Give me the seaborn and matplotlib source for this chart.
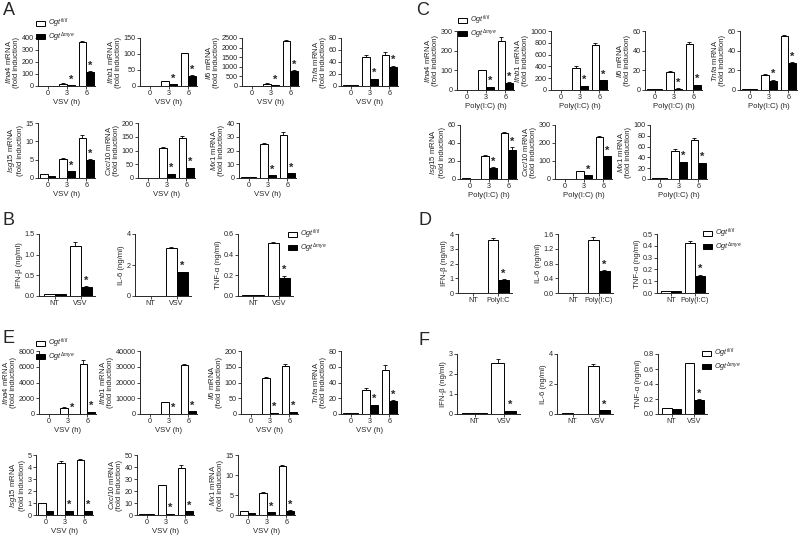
import numpy as np
import pandas as pd
import matplotlib
matplotlib.use("Agg")
import matplotlib.pyplot as plt
from matplotlib.patches import Patch
import seaborn as sns

W, H = 800, 537

GENOS = ["WT", "KO"]
GENO_LABELS = [r"$\mathit{Ogt}^{fl/fl}$", r"$\mathit{Ogt}^{\Delta mye}$"]
PALETTE = {"WT": "white", "KO": "black"}

QPCR_GENES = ["Ifna4", "Ifnb1", "Il6", "Tnfa", "Isg15", "Cxcl10", "Mx1"]
TIMES = ["0", "3", "6"]

# A: VSV, qPCR
A_WT = [[1, 20, 370], [1, 15, 102], [5, 130, 2350], [1, 49, 52], [1, 5.2, 11], [1, 110, 147], [1, 24.5, 31.5]]
A_WT_ERR = [[0, 2, 4], [0, 1, 1], [0, 12, 25], [0, 2, 5], [0, 0.15, 0.8], [0, 2, 4], [0, 1.3, 2]]
A_KO = [[1, 5, 118], [1, 5, 32], [2, 30, 780], [1, 11, 32], [0.6, 1.8, 4.9], [1, 15, 37], [0.8, 2, 3.3]]
A_KO_ERR = [[0, 1, 6], [0, 1, 2], [0, 5, 30], [0, 1, 2], [0, 0.1, 0.2], [0, 1, 1], [0, 0.2, 0.3]]
A_YTICKS = [[0, 100, 200, 300, 400], [0, 50, 100, 150], [0, 500, 1000, 1500, 2000, 2500],
            [0, 20, 40, 60, 80], [0, 5, 10, 15], [0, 50, 100, 150, 200], [0, 10, 20, 30, 40]]

# C: Poly(I:C), qPCR
C_WT = [[1, 100, 248], [1, 375, 760], [1, 18.5, 47], [1, 15.5, 55], [1, 26, 51], [1, 45, 235], [1, 52, 73]]
C_WT_ERR = [[0, 2, 20], [0, 25, 30], [0, 0.5, 2], [0, 0.8, 1], [0, 0.8, 1.5], [0, 2, 4], [0, 4, 2]]
C_KO = [[1, 15, 38], [1, 65, 165], [1.2, 1.5, 5], [1, 9.5, 27], [0.5, 12.5, 32], [1, 20, 125], [1, 31, 29]]
C_KO_ERR = [[0, 1, 2], [0, 5, 5], [0, 0.2, 0.5], [0, 0.8, 1], [0, 0.5, 3], [0, 1, 3], [0, 1, 1]]
C_YTICKS = [[0, 100, 200, 300], [0, 200, 400, 600, 800, 1000], [0, 20, 40, 60], [0, 20, 40, 60],
            [0, 20, 40, 60], [0, 100, 200, 300], [0, 20, 40, 60, 80, 100]]

# E: VSV, qPCR
E_WT = [[0, 800, 6300], [0, 7700, 31000], [1, 113, 153], [1, 31, 56], [1, 4.3, 4.6], [1, 25, 39.5], [1, 5.6, 12.2]]
E_WT_ERR = [[0, 30, 500], [0, 200, 500], [0, 4, 6], [0, 2, 6], [0, 0.2, 0.05], [0, 0.3, 2], [0, 0.1, 0.3]]
E_KO = [[0, 30, 250], [0, 200, 1800], [0.5, 3, 7], [1, 11, 17], [0.35, 0.35, 0.35], [0.5, 0.8, 3], [0.6, 0.7, 1.1]]
E_KO_ERR = [[0, 5, 30], [0, 30, 100], [0, 0.3, 0.5], [0, 0.8, 0.5], [0, 0.02, 0.02], [0, 0.1, 0.3], [0, 0.05, 0.05]]
E_YTICKS = [[0, 2000, 4000, 6000, 8000], [0, 10000, 20000, 30000, 40000], [0, 50, 100, 150, 200],
            [0, 20, 40, 60, 80], [0, 1, 2, 3, 4, 5], [0, 10, 20, 30, 40, 50], [0, 5, 10, 15]]

# cytokines
CYTO_LABELS = ["IFN-β (ng/ml)", "IL-6 (ng/ml)", "TNF-α (ng/ml)"]

B_CONDS = [["NT", "VSV"], ["NT", "VSV"], ["NT", "VSV"]]
B_WT = [[0.04, 1.22], [0, 3.1], [0.005, 0.515]]
B_WT_ERR = [[0, 0.08], [0, 0.05], [0, 0.01]]
B_KO = [[0.05, 0.22], [0, 1.55], [0.01, 0.175]]
B_KO_ERR = [[0, 0.01], [0, 0.02], [0, 0.02]]
B_YTICKS = [["0.0", "0.5", "1.0", "1.5"], ["0", "2", "4"], ["0.0", "0.2", "0.4", "0.6"]]

D_CONDS = [["NT", "PolyI:C"], ["NT", "Poly(I:C)"], ["NT", "Poly(I:C)"]]
D_WT = [[0, 3.6], [0, 1.43], [0.02, 0.42]]
D_WT_ERR = [[0, 0.15], [0, 0.1], [0, 0.02]]
D_KO = [[0, 0.9], [0, 0.6], [0.02, 0.14]]
D_KO_ERR = [[0, 0.03], [0, 0.02], [0, 0.015]]
D_YTICKS = [["0", "1", "2", "3", "4"], ["0.0", "0.4", "0.8", "1.2", "1.6"],
            ["0.0", "0.1", "0.2", "0.3", "0.4", "0.5"]]

F_CONDS = [["NT", "VSV"], ["NT", "VSV"], ["NT", "VSV"]]
F_WT = [[0.04, 2.55], [0.05, 3.2], [0.08, 0.68]]
F_WT_ERR = [[0, 0.2], [0, 0.15], [0, 0.005]]
F_KO = [[0.04, 0.15], [0.03, 0.25], [0.07, 0.19]]
F_KO_ERR = [[0, 0.02], [0, 0.02], [0, 0.005]]
F_YTICKS = [["0", "1", "2", "3"], ["0", "2", "4"], ["0.0", "0.2", "0.4", "0.6", "0.8"]]

sns.set_theme(style="ticks")
plt.rcParams["font.family"] = ["Liberation Sans", "DejaVu Sans"]
plt.rcParams["mathtext.fontset"] = "custom"
plt.rcParams["mathtext.rm"] = "Liberation Sans"
plt.rcParams["mathtext.it"] = "Liberation Sans:italic"
plt.rcParams["axes.linewidth"] = 0.7

TICK_FS = 5.2
LABEL_FS = 5.6

fig = plt.figure(figsize=(W / 100, H / 100), dpi=100)


def px(x0, y0, x1, y1):
    return [x0 / W, 1 - y1 / H, (x1 - x0) / W, (y1 - y0) / H]


def bar_panel(box, cats, wt, ko, wt_err, ko_err, yticks, ylabel, xlabel=None,
              xlim=(-0.5, 2.45), width=0.8):
    ax = fig.add_axes(px(*box))
    df = pd.DataFrame({
        "cond": list(cats) * 2,
        "geno": ["WT"] * len(cats) + ["KO"] * len(cats),
        "val": list(wt) + list(ko),
    })
    sns.barplot(data=df, x="cond", y="val", hue="geno", order=cats, hue_order=GENOS,
                palette=PALETTE, edgecolor="black", linewidth=0.7, errorbar=None,
                legend=False, width=width, ax=ax)
    bars = ax.patches
    errs = list(wt_err) + list(ko_err)
    ticks = [float(t) for t in yticks]
    ymax = ticks[-1]
    for i, b in enumerate(bars):
        xc = b.get_x() + b.get_width() / 2
        h = b.get_height()
        e = errs[i]
        if e > 0:
            ax.errorbar(xc, h, yerr=[[0], [e]], fmt="none", ecolor="black",
                        elinewidth=0.6, capsize=1.3, capthick=0.6)
        # significance stars over the KO bars of stimulated samples
        if i >= len(cats) and i % len(cats) != 0:
            ax.text(xc, h + e + ymax * 0.01, "*", ha="center", va="bottom",
                    fontsize=8, fontweight="bold")
    ax.set_ylim(0, ymax)
    ax.set_yticks(ticks)
    ax.set_yticklabels([str(t) for t in yticks])
    ax.set_xlim(*xlim)
    ax.set_xlabel(xlabel if xlabel else "", fontsize=LABEL_FS, labelpad=1)
    ax.set_ylabel(ylabel, fontsize=LABEL_FS, labelpad=1, linespacing=1.0)
    ax.tick_params(axis="both", labelsize=TICK_FS, length=2, width=0.6, pad=1)
    sns.despine(ax=ax)
    return ax


def gene_label(g):
    return r"$\mathit{" + g + r"}$ mRNA" + "\n(fold induction)"


def add_legend(x, y):
    handles = [Patch(facecolor=PALETTE[g], edgecolor="black", linewidth=0.7) for g in GENOS]
    fig.legend(handles, GENO_LABELS, loc="upper left", bbox_to_anchor=(x / W, 1 - y / H),
               frameon=False, fontsize=5.2, handlelength=1.3, handleheight=0.6,
               handletextpad=0.3, labelspacing=0.0, borderpad=0, borderaxespad=0)


def qpcr_block(rows, cols_rows, wt, ko, wt_err, ko_err, yticks, xlabel):
    k = 0
    for (y0, y1), xs in zip(rows, cols_rows):
        for x0 in xs:
            bar_panel((x0, y0, x0 + 57, y1), TIMES, wt[k], ko[k], wt_err[k], ko_err[k],
                      yticks[k], gene_label(QPCR_GENES[k]), xlabel)
            k += 1


def cyto_block(y0, y1, xs, widths, conds, wt, ko, wt_err, ko_err, yticks):
    for k, x0 in enumerate(xs):
        bar_panel((x0, y0, x0 + widths[k], y1), conds[k], wt[k], ko[k], wt_err[k], ko_err[k],
                  yticks[k], CYTO_LABELS[k], None, xlim=(-0.6, 1.55), width=0.85)


# A
qpcr_block([(38, 86), (123, 178)], [[38, 140, 242, 341], [38, 138, 239]],
           A_WT, A_KO, A_WT_ERR, A_KO_ERR, A_YTICKS, "VSV (h)")
add_legend(36, 17)

# C
qpcr_block([(31, 90), (125, 179)], [[457, 551, 645, 740], [460, 555, 650]],
           C_WT, C_KO, C_WT_ERR, C_KO_ERR, C_YTICKS, "Poly(I:C) (h)")
add_legend(458, 14)

# E
qpcr_block([(351, 414), (455, 515)], [[39, 140, 241, 341], [36, 137, 238]],
           E_WT, E_KO, E_WT_ERR, E_KO_ERR, E_YTICKS, "VSV (h)")
add_legend(36, 337)

# B, D, F
cyto_block(234, 296, [39, 135, 238], [56, 56, 55],
           B_CONDS, B_WT, B_KO, B_WT_ERR, B_KO_ERR, B_YTICKS)
add_legend(288, 228)
cyto_block(234, 293, [458, 558, 657], [54, 55, 51],
           D_CONDS, D_WT, D_KO, D_WT_ERR, D_KO_ERR, D_YTICKS)
add_legend(703, 227)
cyto_block(354, 414, [457, 557, 658], [63, 56, 49],
           F_CONDS, F_WT, F_KO, F_WT_ERR, F_KO_ERR, F_YTICKS)
add_legend(702, 347)

for letter, x, y in [("A", 3, 2), ("C", 416, 2), ("B", 3, 212), ("D", 418, 212),
                     ("E", 3, 330), ("F", 418, 332)]:
    fig.text(x / W, 1 - y / H, letter, fontsize=13, ha="left", va="top")

fig.savefig("out.png", dpi=100)
